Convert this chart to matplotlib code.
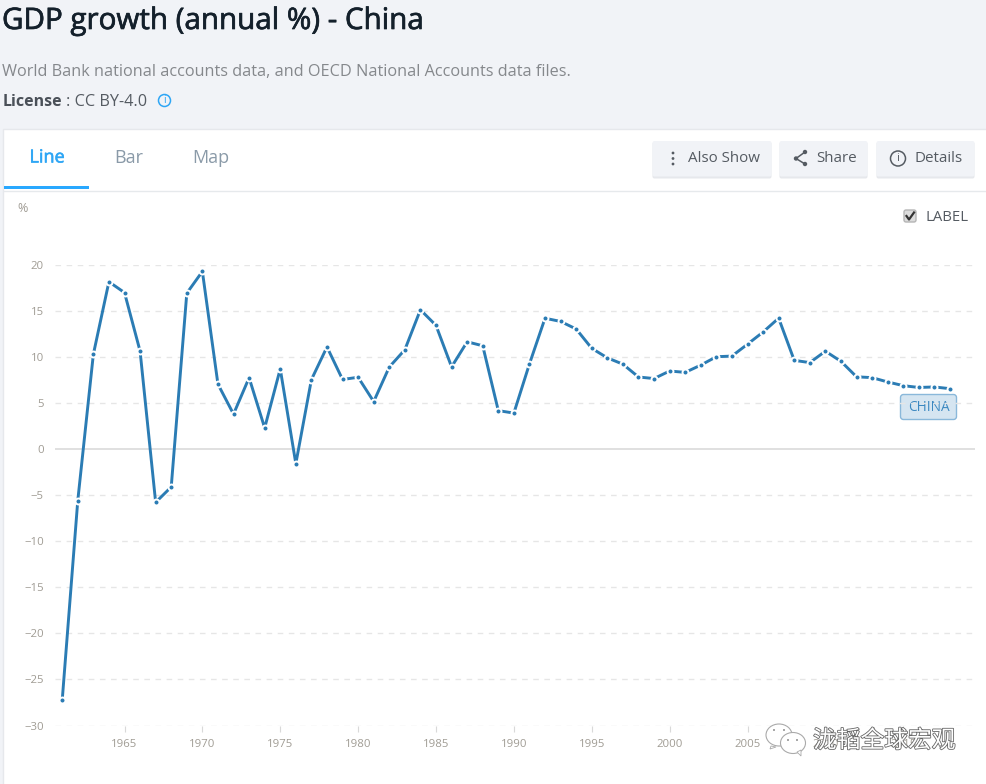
#!/usr/bin/env python3
"""GDP growth line chart for China, World Bank page style."""
import matplotlib
matplotlib.use("Agg")
import matplotlib.pyplot as plt
import matplotlib.patheffects as pe
from matplotlib.patches import Circle, Ellipse, FancyBboxPatch, Polygon, Rectangle

years = list(range(1961, 2019))
growth = [-27.27, -5.58, 10.3, 18.18, 17.0, 10.65, -5.77, -4.1, 16.94, 19.3,
          7.06, 3.81, 7.76, 2.31, 8.72, -1.57, 7.55, 11.1, 7.57, 7.81,
          5.17, 8.92, 10.8, 15.14, 13.44, 8.94, 11.66, 11.23, 4.19, 3.92,
          9.26, 14.22, 13.87, 13.05, 10.95, 9.92, 9.23, 7.84, 7.67, 8.49,
          8.34, 9.13, 10.04, 10.11, 11.4, 12.72, 14.23, 9.65, 9.4, 10.64,
          9.54, 7.86, 7.77, 7.3, 6.9, 6.7, 6.76, 6.57]
y_ticks = [20, 15, 10, 5, 0, -5, -10, -15, -20, -25, -30]
x_ticks = [1965, 1970, 1975, 1980, 1985, 1990, 1995, 2000, 2005, 2010, 2015]

W, H = 987, 784
plt.rcParams['font.family'] = ['Open Sans', 'DejaVu Sans']

fig = plt.figure(figsize=(W / 100, H / 100), dpi=100, facecolor='#f1f3f7')

# page furniture, drawn in pixel coordinates
ui = fig.add_axes([0, 0, 1, 1], zorder=1)
ui.set_xlim(0, W)
ui.set_ylim(H, 0)
ui.axis('off')

ui.add_patch(Rectangle((3, 129), W, H, fc='white', ec='#e6e8ec', lw=1))
ui.text(2, 21.5, 'GDP growth (annual %) - China', fontsize=21.3, color='#14202b', va='center',
        path_effects=[pe.withStroke(linewidth=0.5, foreground='#14202b')])
ui.text(2, 72, 'World Bank national accounts data, and OECD National Accounts data files.',
        fontsize=11.7, color='#85888c', va='center')
ui.text(3, 102, 'License', fontsize=11.5, color='#4a5058', va='center', fontweight='bold')
ui.text(66, 102, ': CC BY-4.0', fontsize=11.7, color='#555b62', va='center')
ui.add_patch(Circle((164.5, 100.5), 6, fc='none', ec='#2ea6f5', lw=1.1))
ui.text(164.5, 100.5, 'i', fontsize=7.5, color='#2ea6f5', ha='center', va='center')

# tabs
ui.text(47, 157.5, 'Line', fontsize=13, color='#2ea6f5', ha='center', va='center',
        path_effects=[pe.withStroke(linewidth=0.4, foreground='#2ea6f5')])
ui.text(128.5, 157.5, 'Bar', fontsize=13, color='#8a9aa8', ha='center', va='center')
ui.text(211, 157.5, 'Map', fontsize=13, color='#8a9aa8', ha='center', va='center')
ui.add_patch(Rectangle((4, 186), 85, 3, fc='#29a8ff', ec='none'))
ui.plot([4, W], [190.5, 190.5], color='#e6e9ec', lw=1)

# buttons
for x0, x1 in [(652, 772), (779, 868), (876, 975)]:
    ui.add_patch(FancyBboxPatch((x0 + 0.5, 142), x1 - x0 - 1, 36.5, boxstyle='round,pad=0,rounding_size=2',
                                fc='#e6e8ec', ec='none'))
    ui.add_patch(FancyBboxPatch((x0 + 0.5, 141), x1 - x0 - 1, 35.5, boxstyle='round,pad=0,rounding_size=2',
                                fc='#f1f3f7', ec='none'))
ui.text(688, 158.5, 'Also Show', fontsize=10.9, color='#555b62', va='center')
ui.text(816, 158.5, 'Share', fontsize=10.9, color='#555b62', va='center')
ui.text(915, 158.5, 'Details', fontsize=10.9, color='#555b62', va='center')
for yy in (153, 158.5, 164):
    ui.add_patch(Circle((673, yy), 1.4, fc='#555b62', ec='none'))
ui.plot([805, 796, 805], [152, 158.5, 164], color='#555b62', lw=1.1)
for cx, cy in [(805, 152), (796, 158.5), (805, 164)]:
    ui.add_patch(Circle((cx, cy), 2.2, fc='#555b62', ec='none'))
ui.add_patch(Circle((898, 158.5), 7.5, fc='none', ec='#555b62', lw=1.1))
ui.text(898, 158.5, 'i', fontsize=8, color='#555b62', ha='center', va='center')

# label checkbox
ui.add_patch(FancyBboxPatch((904, 210), 12, 12, boxstyle='round,pad=0,rounding_size=2',
                            fc='#dcdcdc', ec='#b5b5b5', lw=1))
ui.plot([906.5, 909, 914], [216, 219.5, 212.5], color='#333333', lw=1.6)
ui.text(925.5, 217.5, 'LABEL', fontsize=10.7, color='#555b62', va='center')

# chart, axes box set so the grid spans 55-975 px and 20/-30 sit at 265/725.5 px
px_left, px_right, px_top, px_bottom = 55, 975, 265, 725.5
ax = fig.add_axes([px_left / W, 1 - px_bottom / H, (px_right - px_left) / W, (px_bottom - px_top) / H],
                  zorder=2)
ax.patch.set_alpha(0)
ax.set_xlim(1961 + (px_left - 62.2) / 15.575, 1961 + (px_right - 62.2) / 15.575)
ax.set_ylim(-30, 20)
for s in ax.spines.values():
    s.set_visible(False)

ax.set_yticks(y_ticks)
ax.set_xticks(x_ticks)
ax.tick_params(axis='y', length=0, labelsize=8.2, labelcolor='#a09c94', pad=8)
ax.tick_params(axis='x', length=4, width=0.8, color='#d9d9d9', labelsize=8.2, labelcolor='#a09c94', pad=6)
for v in y_ticks:
    if v == 0:
        ax.axhline(v, color='#e0e0e0', lw=1.4, zorder=1)
    else:
        ax.axhline(v, color='#e6e6e6', lw=1, ls=(0, (4, 4)), zorder=1)

ax.plot(years, growth, color='#2b7cb4', lw=2.1, marker='o', ms=4.3, mfc='#2b7cb4',
        mec='white', mew=1.4, clip_on=False, zorder=3)

ui.text(22.5, 208, '%', fontsize=9, color='#a09c94', ha='center', va='center')

# series label
ui.add_patch(FancyBboxPatch((900.5, 394.5), 56, 25, boxstyle='round,pad=0,rounding_size=3',
                            fc='#d5e5f1', ec='#8ab8da', lw=1, zorder=5))
ui.text(928.5, 407, 'CHINA', fontsize=9.8, color='#3c88c0', ha='center', va='center', zorder=6)

# watermark over everything
wm = fig.add_axes([0, 0, 1, 1], zorder=3)
wm.set_xlim(0, W)
wm.set_ylim(H, 0)
wm.axis('off')
halo = [pe.withStroke(linewidth=1.2, foreground='#666666')]
for cx, cy, rx, ry in [(779, 735, 13, 11), (793, 743, 12.5, 10.5)]:
    wm.add_patch(Ellipse((cx, cy), rx * 2, ry * 2, fc='white', ec='#aaaaaa', lw=0.8))
wm.add_patch(Polygon([[771, 746], [770, 749], [776, 747]], fc='white', ec='#aaaaaa', lw=0.6))
wm.add_patch(Polygon([[797, 752], [801, 756], [801, 750]], fc='white', ec='#aaaaaa', lw=0.6))
for cx, cy in [(774, 730), (784, 730), (788, 740), (797, 740)]:
    wm.add_patch(Circle((cx, cy), 0.9, fc='#777777', ec='none'))
wm.text(813, 741, '泷韬全球宏观', fontsize=17.1, color='white', va='center',
        family=['Noto Sans CJK SC', 'DejaVu Sans'], path_effects=halo)

fig.savefig('out.png', dpi=100, facecolor=fig.get_facecolor())
plt.close(fig)
